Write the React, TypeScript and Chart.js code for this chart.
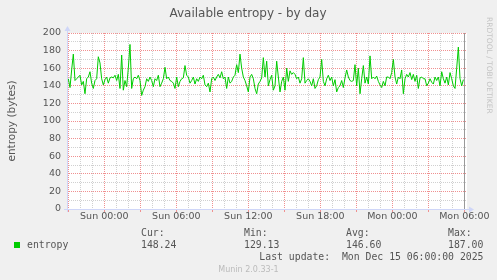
import React, { useEffect, useRef } from "react";
import { Chart, registerables } from "chart.js";

Chart.register(...registerables);

const TITLE = "Available entropy - by day";
const Y_LABEL = "entropy (bytes)";
const WATERMARK = "RRDTOOL / TOBI OETIKER";
const VERSION = "Munin 2.0.33-1";
const LAST_UPDATE = "Last update:  Mon Dec 15 06:00:00 2025";
const SERIES_NAME = "entropy";

// time axis in hours relative to Sun 00:00
const X_MIN = -3.11;
const X_MAX = 30.22;
const START_HOUR = -3.0;
const STEP_HOURS = 5 / 36;
const NOW_HOUR = 30;

const xTickHours = [0, 6, 12, 18, 24, 30];
const xTickLabels = ["Sun 00:00", "Sun 06:00", "Sun 12:00", "Sun 18:00", "Mon 00:00", "Mon 06:00"];
const yTicks = [0, 20, 40, 60, 80, 100, 120, 140, 160, 180, 200];

const legendHeaders = ["Cur:", "Min:", "Avg:", "Max:"];
const legendValues = ["148.24", "129.13", "146.60", "187.00"];

const entropy = [
  148, 138, 158, 176, 146, 148, 150, 152, 141, 145, 131, 148, 150, 156, 143, 137,
  146, 148, 173, 166, 148, 141, 147, 150, 143, 149, 150, 149, 152, 146, 153, 137,
  175, 135, 146, 139, 160, 187, 137, 148, 150, 148, 152, 146, 129, 135, 139, 148,
  145, 150, 146, 139, 148, 146, 152, 139, 143, 148, 161, 148, 150, 146, 145, 143,
  137, 150, 139, 145, 148, 149, 163, 152, 150, 143, 146, 150, 142, 148, 145, 150,
  148, 152, 141, 139, 143, 133, 148, 150, 146, 150, 153, 149, 156, 148, 150, 137,
  150, 143, 145, 150, 152, 164, 155, 176, 160, 150, 146, 140, 133,
  150, 153, 148, 137, 131, 142, 145, 149, 172, 150, 168, 140, 147, 152, 135, 140,
  168, 150, 133, 145, 150, 135, 160, 145, 157, 153, 155, 153, 148, 150, 143, 148,
  172, 143, 146, 148, 145, 140, 148, 137, 140, 147, 150, 170, 145, 140, 148, 152,
  146, 150, 140, 147, 133, 138, 140, 146, 138, 149, 158, 150, 146, 145, 146, 164,
  140, 160, 131, 148, 163, 143, 150, 142, 174, 148, 150, 148, 151, 145, 141, 138,
  145, 140, 150, 150, 148, 155, 170, 150, 142, 150, 148, 158, 131, 148, 153, 150,
  155, 147, 153, 145, 152, 137, 149, 150, 148, 148, 140, 143, 148, 144, 142, 150,
  146, 150, 140, 156, 148, 143, 150, 141, 155, 148, 140, 137, 160, 184, 148, 140,
  147,
];

const TEXT = "#555555";
const FONT = "DejaVu Sans";
const MONO = "DejaVu Sans Mono";
const LINE_COLOR = "#00cc00";
const MINOR_GRID = "#d0d0d0";
const MAJOR_GRID = "#f09090";
const AXIS_COLOR = "#cfd6f8";

const muninPlugin = {
  id: "munin",
  beforeDraw(chart: any) {
    const { ctx, chartArea: a } = chart;
    ctx.save();
    ctx.fillStyle = "#f0f0f0";
    ctx.fillRect(0, 0, chart.width, chart.height);
    ctx.fillStyle = "#ffffff";
    ctx.fillRect(a.left, a.top, a.right - a.left, a.bottom - a.top);
    ctx.restore();
  },
  beforeDatasetsDraw(chart: any) {
    const { ctx, chartArea: a, scales } = chart;
    const xs = scales.x;
    const ys = scales.y;
    ctx.save();
    // dotted grid drawn pixel by pixel: one dot every two pixels
    const dotsV = (px: number, color: string) => {
      ctx.fillStyle = color;
      for (let y = Math.ceil(a.top); y < a.bottom; y += 2) ctx.fillRect(px, y, 1, 1);
    };
    const dotsH = (py: number, color: string) => {
      ctx.fillStyle = color;
      for (let x = Math.ceil(a.left); x < a.right; x += 2) ctx.fillRect(x, py, 1, 1);
    };
    for (let h = Math.ceil(X_MIN); h <= Math.floor(X_MAX); h++) {
      if (h % 3 === 0) continue;
      dotsV(Math.floor(xs.getPixelForValue(h)), MINOR_GRID);
    }
    for (let v = 10; v <= 200; v += 20) dotsH(Math.floor(ys.getPixelForValue(v)), MINOR_GRID);
    for (let h = Math.ceil(X_MIN); h <= Math.floor(X_MAX); h++) {
      if (h % 3 !== 0) continue;
      const px = Math.floor(xs.getPixelForValue(h));
      dotsV(px, MAJOR_GRID);
      ctx.fillRect(px, Math.floor(a.bottom) + 1, 1, 2);
    }
    for (let v = 20; v <= 200; v += 20) dotsH(Math.floor(ys.getPixelForValue(v)), MAJOR_GRID);
    ctx.restore();
  },
  afterDatasetsDraw(chart: any) {
    const { ctx, chartArea: a, scales } = chart;
    const xs = scales.x;
    ctx.save();
    // "now" rule
    const nx = Math.floor(xs.getPixelForValue(NOW_HOUR)) + 0.5;
    ctx.strokeStyle = "#999999";
    ctx.lineWidth = 1;
    ctx.beginPath();
    ctx.moveTo(nx, a.top);
    ctx.lineTo(nx, a.bottom);
    ctx.stroke();
    // axes
    ctx.strokeStyle = AXIS_COLOR;
    const by = Math.floor(a.bottom) + 0.5;
    const lx = Math.floor(a.left) + 0.5;
    ctx.beginPath();
    ctx.moveTo(a.left - 3, by);
    ctx.lineTo(a.right + 3, by);
    ctx.moveTo(lx, a.bottom + 3);
    ctx.lineTo(lx, a.top - 3);
    ctx.stroke();
    ctx.fillStyle = AXIS_COLOR;
    ctx.beginPath();
    ctx.moveTo(a.right + 2, by - 3);
    ctx.lineTo(a.right + 7, by);
    ctx.lineTo(a.right + 2, by + 3);
    ctx.closePath();
    ctx.fill();
    ctx.beginPath();
    ctx.moveTo(lx - 3, a.top - 2);
    ctx.lineTo(lx, a.top - 7);
    ctx.lineTo(lx + 3, a.top - 2);
    ctx.closePath();
    ctx.fill();
    ctx.restore();
  },
  afterDraw(chart: any) {
    const { ctx, chartArea: a } = chart;
    ctx.save();
    ctx.fillStyle = TEXT;
    ctx.textBaseline = "middle";
    // title
    ctx.font = `12px '${FONT}'`;
    ctx.textAlign = "center";
    ctx.fillText(TITLE, 248, 14);
    // y label
    ctx.save();
    ctx.translate(12, (a.top + a.bottom) / 2);
    ctx.rotate(-Math.PI / 2);
    ctx.font = `10.5px '${FONT}'`;
    ctx.fillText(Y_LABEL, 0, 0);
    ctx.restore();
    // watermark
    ctx.save();
    ctx.translate(489, 17);
    ctx.rotate(Math.PI / 2);
    ctx.fillStyle = "#c4c4c4";
    ctx.font = `7.5px '${FONT}'`;
    ctx.textAlign = "left";
    ctx.fillText(WATERMARK, 0, 0);
    ctx.restore();
    // legend
    ctx.fillStyle = LINE_COLOR;
    ctx.fillRect(14, 242, 6, 6);
    ctx.fillStyle = TEXT;
    ctx.font = `9.8px '${MONO}'`;
    ctx.textAlign = "left";
    ctx.fillText(SERIES_NAME, 27, 245);
    const cols = [141, 244, 346, 448];
    legendHeaders.forEach((h, i) => ctx.fillText(h, cols[i], 233.5));
    legendValues.forEach((v, i) => ctx.fillText(v, cols[i], 245));
    ctx.textAlign = "right";
    ctx.fillText(LAST_UPDATE, 483.5, 257.5);
    // version
    ctx.fillStyle = "#bbbbbb";
    ctx.font = `8px '${FONT}'`;
    ctx.textAlign = "center";
    ctx.fillText(VERSION, 248.5, 269.5);
    ctx.restore();
  },
};

export default function App() {
  const ref = useRef<HTMLCanvasElement | null>(null);
  useEffect(() => {
    if (!ref.current) return;
    const points = entropy.map((v, i) => ({ x: START_HOUR + i * STEP_HOURS, y: v }));
    const tickFont = { family: FONT, size: 9.5 };
    const chart = new Chart(ref.current, {
      type: "line",
      data: {
        datasets: [
          {
            label: SERIES_NAME,
            data: points,
            borderColor: LINE_COLOR,
            backgroundColor: LINE_COLOR,
            borderWidth: 1,
            pointRadius: 0,
            tension: 0,
          },
        ],
      },
      options: {
        animation: false,
        responsive: false,
        devicePixelRatio: 1,
        layout: { padding: { left: 0, top: 33, right: 30, bottom: 0 } },
        plugins: {
          legend: { display: false },
          title: { display: false },
          tooltip: { enabled: false },
        },
        scales: {
          x: {
            type: "linear",
            min: X_MIN,
            max: X_MAX,
            grid: { display: false, drawTicks: false },
            border: { display: false },
            afterBuildTicks: (s: any) => {
              s.ticks = xTickHours.map((v) => ({ value: v }));
            },
            afterFit: (s: any) => {
              s.height = 71;
            },
            ticks: {
              autoSkip: false,
              maxRotation: 0,
              minRotation: 0,
              padding: 2,
              color: TEXT,
              font: tickFont,
              callback: (_v: any, i: number) => xTickLabels[i],
            },
          },
          y: {
            type: "linear",
            min: 0,
            max: 200,
            grid: { display: false, drawTicks: false },
            border: { display: false },
            afterBuildTicks: (s: any) => {
              s.ticks = yTicks.map((v) => ({ value: v }));
            },
            afterFit: (s: any) => {
              s.width = 67;
            },
            ticks: {
              autoSkip: false,
              padding: 6,
              color: TEXT,
              font: tickFont,
              callback: (v: any) => String(v),
            },
          },
        },
      },
      plugins: [muninPlugin],
    });
    return () => chart.destroy();
  }, []);
  return (
    <div style={{ position: "fixed", left: 0, top: 0, width: 497, height: 280 }}>
      <canvas ref={ref} width={497} height={280} style={{ display: "block" }} />
    </div>
  );
}
